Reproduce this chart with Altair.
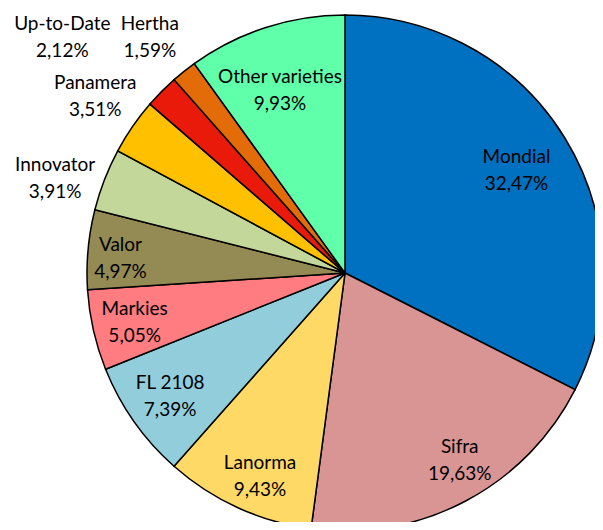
import altair as alt
import pandas as pd

varieties = ["Mondial", "Sifra", "Lanorma", "FL 2108", "Markies", "Valor",
             "Innovator", "Panamera", "Up-to-Date", "Hertha", "Other varieties"]
shares = [32.47, 19.63, 9.43, 7.39, 5.05, 4.97, 3.91, 3.51, 2.12, 1.59, 9.93]
share_labels = ["32,47%", "19,63%", "9,43%", "7,39%", "5,05%", "4,97%",
                "3,91%", "3,51%", "2,12%", "1,59%", "9,93%"]
colors = ["#0070C0", "#D99594", "#FFD966", "#92CDDC", "#FF7C80", "#948A54",
          "#C4D79B", "#FFC000", "#EA1A0A", "#E36C09", "#60FFAA"]

# label placement (style): radial distance in px and angular nudge in percent
label_radius = [200, 219, 220, 214, 216, 225, 305, 306, 368, 306, 194]
label_nudge = [0.17, -1.06, -0.5, 0, -0.1, -0.4, -0.86, 0.2, -1.36, -0.28, -0.47]

df = pd.DataFrame({"variety": varieties, "share": shares, "label": share_labels})
df["end"] = df["share"].cumsum()
df["start"] = df["end"] - df["share"]
df["mid"] = (df["start"] + df["end"]) / 2 + pd.Series(label_nudge)
df["lr"] = label_radius
df["text"] = df["variety"] + "\n" + df["label"]

theta_scale = alt.Scale(domain=[0, 100], range=[0, 6.283185307179586])
cx, cy = 337, 265

arcs = alt.Chart(df).mark_arc(outerRadius=258, stroke="black", strokeWidth=1.5).encode(
    theta=alt.Theta("start:Q", scale=theta_scale),
    theta2="end:Q",
    color=alt.Color("variety:N", scale=alt.Scale(domain=varieties, range=colors), legend=None),
    x=alt.value(cx),
    y=alt.value(cy),
)

labels = alt.Chart(df).mark_text(
    font="Lato", fontSize=19, lineBreak="\n", lineHeight=27, dy=-13,
    align="center", baseline="middle", color="#000000"
).encode(
    theta=alt.Theta("mid:Q", scale=theta_scale),
    radius=alt.Radius("lr:Q", scale=None),
    text="text:N",
    x=alt.value(cx),
    y=alt.value(cy),
)

chart = alt.layer(arcs, labels).properties(
    width=587, height=514, padding=0, autosize="none"
).configure_view(stroke=None)

chart.save("out.html", embed_options={"renderer": "svg", "actions": False})
